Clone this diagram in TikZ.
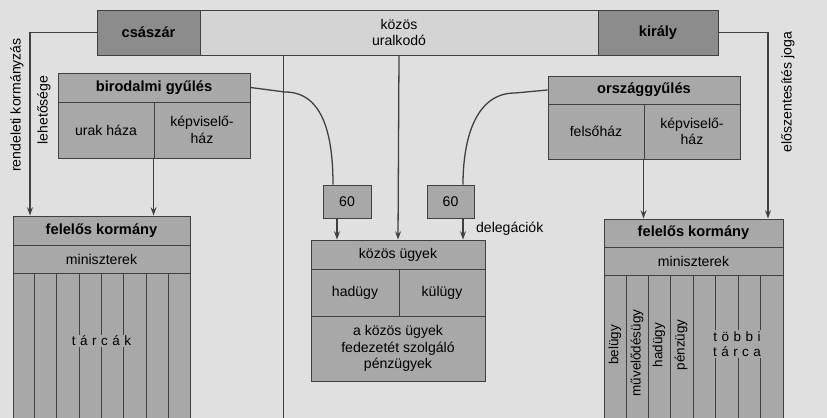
\documentclass[tikz,border=0pt]{standalone}
\usepackage{fontspec}
\setmainfont{Liberation Sans}
\usetikzlibrary{positioning,arrows.meta,calc}
\definecolor{bgpage}{gray}{0.88}
\definecolor{boxgray}{gray}{0.66}
\definecolor{darkgray}{gray}{0.55}
\definecolor{lightbar}{gray}{0.83}
\definecolor{linegray}{gray}{0.25}

\begin{document}
\begin{tikzpicture}[
        x=0.03cm, y=-0.03cm,
        Box/.style ={draw=linegray, line width=0.8pt, fill=boxgray, inner sep=0pt,
            font=\fontsize{12}{14}\selectfont, align=center},
        Head/.style ={Box, font=\bfseries\fontsize{12.5}{14}\selectfont},
        Col/.style ={font=\fontsize{11.5}{13}\selectfont, inner sep=1pt},
        Link/.style ={draw=linegray, line width=1.1pt, -{Stealth[length=7pt,width=5pt]}},
    ]
    \useasboundingbox[fill=bgpage] (0,0) rectangle (827,418);
    \draw[linegray, line width=0.8pt] (283,55) -- (283,418);

    % top bar
    \node[Box, fill=lightbar, minimum width=398*0.03cm, minimum height=45*0.03cm]
        (ural) at (399,32.5) {közös\\uralkodó};
    \node[Head, fill=darkgray, minimum width=103*0.03cm, minimum height=45*0.03cm]
        (csaszar) at (148.5,32.5) {császár};
    \node[Head, fill=darkgray, minimum width=120*0.03cm, minimum height=45*0.03cm]
        (kiraly) at (658,32.5) {király};

    % birodalmi gyules
    \node[Head, minimum width=192*0.03cm, minimum height=29*0.03cm]
        (bgy) at (154,87.5) {birodalmi gyűlés};
    \node[Box, minimum width=96*0.03cm, minimum height=56*0.03cm]
        (urak) at (106,130) {urak háza};
    \node[Box, minimum width=96*0.03cm, minimum height=56*0.03cm]
        (bkepv) at (202,130) {képviselő-\\ház};

    % orszaggyules
    \node[Head, minimum width=192*0.03cm, minimum height=28*0.03cm]
        (ogy) at (644,90) {országgyűlés};
    \node[Box, minimum width=96*0.03cm, minimum height=55*0.03cm]
        (felso) at (596,131.5) {felsőház};
    \node[Box, minimum width=96*0.03cm, minimum height=55*0.03cm]
        (okepv) at (692,131.5) {képviselő-\\ház};

    % delegaciok
    \node[Box, minimum width=48*0.03cm, minimum height=33*0.03cm] (del1) at (347,201.5) {60};
    \node[Box, minimum width=47*0.03cm, minimum height=33*0.03cm] (del2) at (450.5,201.5) {60};
    \node[font=\fontsize{12}{14}\selectfont, anchor=west] (delabel) at (472,229) {delegációk};

    % kozos ugyek
    \node[Box, minimum width=174*0.03cm, minimum height=29*0.03cm] (kugy) at (398,254.5) {közös ügyek};
    \node[Box, minimum width=88*0.03cm, minimum height=47*0.03cm] (hadugy) at (355,292.5) {hadügy};
    \node[Box, minimum width=86*0.03cm, minimum height=47*0.03cm] (kulugy) at (442,292.5) {külügy};
    \node[Box, minimum width=174*0.03cm, minimum height=65*0.03cm] (penz) at (398,348.5)
        {a közös ügyek\\fedezetét szolgáló\\pénzügyek};

    % felelos kormany (bal)
    \node[Head, minimum width=177*0.03cm, minimum height=29*0.03cm] (fkb) at (101.5,230.5) {felelős kormány};
    \node[Box, minimum width=177*0.03cm, minimum height=28*0.03cm] (minb) at (101.5,259) {miniszterek};
    \node[Box, minimum width=177*0.03cm, minimum height=145*0.03cm] (tarcab) at (101.5,345.5) {};
    \foreach \cx in {34,56,79,101,123,146,168}
        \draw[linegray, line width=0.8pt] (\cx,273) -- (\cx,418);
    \node[Col, fill=boxgray] at (101.5,341) {t\,\,á\,\,r\,\,c\,\,á\,\,k};

    % felelos kormany (jobb)
    \node[Head, minimum width=179*0.03cm, minimum height=28*0.03cm] (fkj) at (693.5,233) {felelős kormány};
    \node[Box, minimum width=179*0.03cm, minimum height=28*0.03cm] (minj) at (693.5,261) {miniszterek};
    \node[Box, minimum width=179*0.03cm, minimum height=143*0.03cm] (tarcaj) at (693.5,346.5) {};
    \foreach \cx in {626,648,670,693,715,738,760}
        \draw[linegray, line width=0.8pt] (\cx,275) -- (\cx,418);
    \foreach \cx/\txt/\cy in {615/belügy/345, 637/művelődésügy/353, 659/hadügy/345, 681/pénzügy/345}
        \node[Col, rotate=90] at (\cx,\cy) {\txt};
    \node[Col, fill=boxgray, align=center] at (737,344) {t\,\,ö\,\,b\,\,b\,\,i\\t\,\,á\,\,r\,\,c\,\,a};

    % connectors
    \coordinate (lx) at (30,0);
    \coordinate (rx) at (768,0);
    \coordinate (d1x) at (337,0);
    \coordinate (d2x) at (463,0);
    \coordinate (c1x) at (333,0);
    \draw[Link] (csaszar.west) -| (fkb.north -| lx);
    \draw[Link] (kiraly.east) -| (fkj.north -| rx);
    \draw[Link] (bkepv.south west) -- (fkb.north -| bkepv.south west);
    \draw[Link] (okepv.south west) -- (fkj.north -| okepv.south west);
    \draw[Link] (ural.south) -- (kugy.north);
    \draw[Link] (del1.south -| d1x) -- (kugy.north -| d1x);
    \draw[Link] (del2.south -| d2x) -- (kugy.north -| d2x);
    \draw[linegray, line width=1.1pt] (bgy.east) -- (285,92) .. controls (325,92) and (333,140) .. (del1.north -| c1x);
    \draw[linegray, line width=1.1pt] (ogy.west) -- (515,93) .. controls (475,93) and (463,140) .. (del2.north -| d2x);

    % oldalso feliratok
    \node[rotate=90, font=\fontsize{12}{14}\selectfont] (rend) at (17,105) {rendeleti kormányzás};
    \node[rotate=90, font=\fontsize{12}{14}\selectfont] (lehet) at (44,110) {lehetősége};
    \node[rotate=90, font=\fontsize{12}{14}\selectfont] (elosz) at (788,92) {előszentesítés joga};
\end{tikzpicture}
\end{document}
